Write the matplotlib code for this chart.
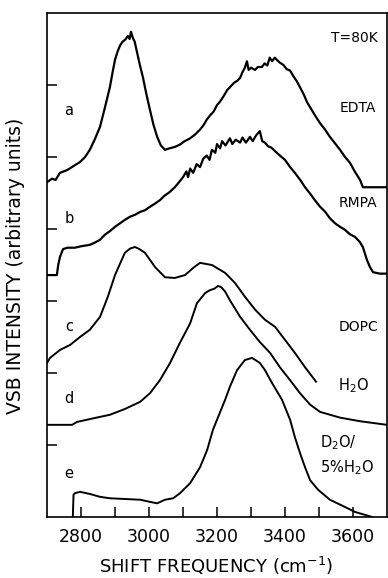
import numpy as np
import matplotlib
matplotlib.use("Agg")
import matplotlib.pyplot as plt

# spectra, shift in cm-1, intensity in arbitrary units (stacked)
edta_x = [2700, 2715, 2725, 2738, 2760, 2780, 2797, 2812, 2826, 2841, 2856, 2870, 2885, 2893, 2900,
          2908, 2915, 2922, 2930, 2938, 2943, 2947, 2952, 2958, 2965, 2973, 2982, 2992, 3003, 3013,
          3024, 3035, 3047, 3060, 3076, 3090, 3105, 3121, 3135, 3150, 3160, 3170, 3180, 3190, 3200,
          3209, 3220, 3230, 3238, 3250, 3260, 3268, 3275, 3282, 3288, 3293, 3300, 3312, 3320, 3332,
          3340, 3348, 3355, 3362, 3370, 3378, 3385, 3395, 3405, 3415, 3425, 3435, 3444, 3455, 3465,
          3474, 3488, 3503, 3518, 3532, 3547, 3562, 3575, 3591, 3605, 3621, 3629, 3700]
edta_y = [4.65, 4.70, 4.68, 4.78, 4.82, 4.88, 4.93, 5.00, 5.10, 5.25, 5.42, 5.68, 5.97, 6.18, 6.35,
          6.47, 6.55, 6.60, 6.63, 6.68, 6.64, 6.74, 6.66, 6.60, 6.45, 6.28, 6.11, 5.88, 5.65, 5.45,
          5.28, 5.16, 5.10, 5.12, 5.14, 5.17, 5.22, 5.26, 5.31, 5.38, 5.44, 5.52, 5.58, 5.63, 5.72,
          5.77, 5.85, 5.93, 5.97, 6.03, 6.06, 6.10, 6.18, 6.24, 6.33, 6.21, 6.24, 6.21, 6.25, 6.25,
          6.30, 6.27, 6.38, 6.33, 6.38, 6.34, 6.31, 6.28, 6.22, 6.20, 6.12, 6.05, 5.97, 5.87, 5.76,
          5.69, 5.58, 5.47, 5.38, 5.28, 5.19, 5.10, 5.01, 4.92, 4.80, 4.68, 4.58, 4.58]

rmpa_x = [2700, 2729, 2733, 2738, 2747, 2760, 2782, 2800, 2826, 2840, 2856, 2870, 2885, 2900, 2915,
          2930, 2944, 2960, 2975, 2988, 3000, 3010, 3020, 3032, 3045, 3060, 3076, 3090, 3100, 3110,
          3115, 3121, 3130, 3140, 3150, 3160, 3170, 3178, 3185, 3195, 3200, 3209, 3215, 3225, 3238,
          3245, 3255, 3268, 3275, 3285, 3297, 3305, 3315, 3326, 3333, 3341, 3350, 3360, 3371, 3385,
          3400, 3415, 3429, 3445, 3459, 3474, 3488, 3503, 3518, 3532, 3547, 3562, 3576, 3590, 3606,
          3620, 3629, 3641, 3650, 3659, 3679, 3700]
rmpa_y = [3.36, 3.36, 3.50, 3.61, 3.72, 3.74, 3.74, 3.76, 3.78, 3.81, 3.85, 3.92, 3.97, 4.03, 4.08,
          4.13, 4.17, 4.20, 4.24, 4.26, 4.30, 4.33, 4.36, 4.40, 4.46, 4.51, 4.58, 4.66, 4.72, 4.80,
          4.72, 4.84, 4.78, 4.90, 4.86, 4.98, 5.02, 4.96, 5.10, 5.06, 5.18, 5.12, 5.22, 5.16, 5.26,
          5.18, 5.24, 5.20, 5.27, 5.20, 5.28, 5.22, 5.30, 5.36, 5.22, 5.20, 5.15, 5.13, 5.08, 5.02,
          4.96, 4.86, 4.78, 4.68, 4.58, 4.49, 4.40, 4.31, 4.24, 4.15, 4.08, 4.03, 3.99, 3.93, 3.89,
          3.82, 3.75, 3.57, 3.47, 3.40, 3.38, 3.38]

dopc_x = [2700, 2709, 2738, 2768, 2797, 2826, 2856, 2879, 2900, 2929, 2945, 2959, 2972, 2988, 3018,
          3047, 3076, 3106, 3130, 3150, 3185, 3224, 3253, 3282, 3312, 3341, 3371, 3400, 3429, 3459,
          3488, 3491]
dopc_y = [2.14, 2.21, 2.32, 2.39, 2.50, 2.60, 2.78, 3.06, 3.36, 3.67, 3.73, 3.75, 3.72, 3.67, 3.47,
          3.33, 3.32, 3.36, 3.46, 3.53, 3.50, 3.39, 3.25, 3.06, 2.88, 2.74, 2.64, 2.46, 2.28, 2.08,
          1.90, 1.88]

h2o_x = [2700, 2774, 2788, 2826, 2885, 2929, 2974, 3003, 3032, 3062, 3091, 3121, 3141, 3165, 3179,
         3192, 3203, 3213, 3224, 3238, 3268, 3297, 3326, 3356, 3385, 3415, 3444, 3474, 3503, 3562,
         3621, 3700]
h2o_y = [1.28, 1.28, 1.32, 1.36, 1.42, 1.50, 1.60, 1.72, 1.90, 2.14, 2.42, 2.69, 2.97, 3.11, 3.15,
         3.17, 3.21, 3.19, 3.13, 3.01, 2.78, 2.60, 2.43, 2.28, 2.08, 1.90, 1.72, 1.56, 1.46, 1.38,
         1.33, 1.28]

d2o_x = [2776, 2778, 2782, 2797, 2826, 2856, 2885, 2929, 2974, 3003, 3024, 3047, 3071, 3091, 3121,
         3150, 3171, 3188, 3200, 3224, 3238, 3259, 3282, 3303, 3326, 3341, 3362, 3391, 3415, 3429,
         3444, 3459, 3474, 3497, 3532, 3576, 3606, 3635, 3656]
d2o_y = [0.00, 0.31, 0.33, 0.35, 0.32, 0.28, 0.26, 0.25, 0.24, 0.21, 0.19, 0.24, 0.26, 0.33, 0.47,
         0.69, 0.93, 1.21, 1.35, 1.63, 1.81, 2.04, 2.18, 2.21, 2.14, 2.04, 1.86, 1.63, 1.35, 1.11,
         0.89, 0.69, 0.51, 0.38, 0.24, 0.14, 0.07, 0.03, 0.00]

letters = ["a", "b", "c", "d", "e"]
letter_y = [5.65, 4.15, 2.64, 1.65, 0.61]

xticks_major = [2800, 3000, 3200, 3400, 3600]
xticks_minor = [2900, 3100, 3300, 3500]
yticks = [1, 2, 3, 4, 5, 6]

fig = plt.figure(figsize=(3.88, 5.78), dpi=100)
ax = fig.add_axes([47 / 388, 61 / 578, 340 / 388, 504 / 578])

ax.plot(edta_x, edta_y, color="black", lw=1.6)
ax.plot(rmpa_x, rmpa_y, color="black", lw=1.6)
ax.plot(dopc_x, dopc_y, color="black", lw=1.4)
ax.plot(h2o_x, h2o_y, color="black", lw=1.4)
ax.plot(d2o_x, d2o_y, color="black", lw=1.4)

ax.set_xlim(2700, 3700)
ax.set_ylim(0, 7)

ax.set_xticks(xticks_major)
ax.set_xticks(xticks_minor, minor=True)
ax.set_yticks(yticks)
ax.set_yticklabels([])
ax.tick_params(axis="both", which="both", direction="in", length=7.5, width=1.1,
               top=False, right=False)
ax.tick_params(axis="x", labelsize=12.5, pad=8)
for s in ax.spines.values():
    s.set_linewidth(1.2)

for lab, yy in zip(letters, letter_y):
    ax.text(2765, yy, lab, fontsize=10.5, ha="center", va="center")

ax.text(3674, 6.65, "T=80K", fontsize=10, ha="right", va="center")
ax.text(3615, 5.68, "EDTA", fontsize=10, ha="center", va="center")
ax.text(3615, 4.36, "RMPA", fontsize=10, ha="center", va="center")
ax.text(3615, 2.64, "DOPC", fontsize=10, ha="center", va="center")
ax.text(3600, 1.83, r"H$_2$O", fontsize=10.5, ha="center", va="center")
ax.text(3503, 1.03, r"D$_2$O/", fontsize=10.5, ha="left", va="center")
ax.text(3503, 0.68, r"5%H$_2$O", fontsize=10.5, ha="left", va="center")

fig.text(216 / 388, 12 / 578, r"SHIFT FREQUENCY (cm$^{-1}$)", fontsize=13, ha="center", va="center")
fig.text(16 / 388, 1 - 266 / 578, "VSB INTENSITY (arbitrary units)", fontsize=13.5,
         rotation=90, ha="center", va="center")

fig.savefig("out.png", dpi=100)
